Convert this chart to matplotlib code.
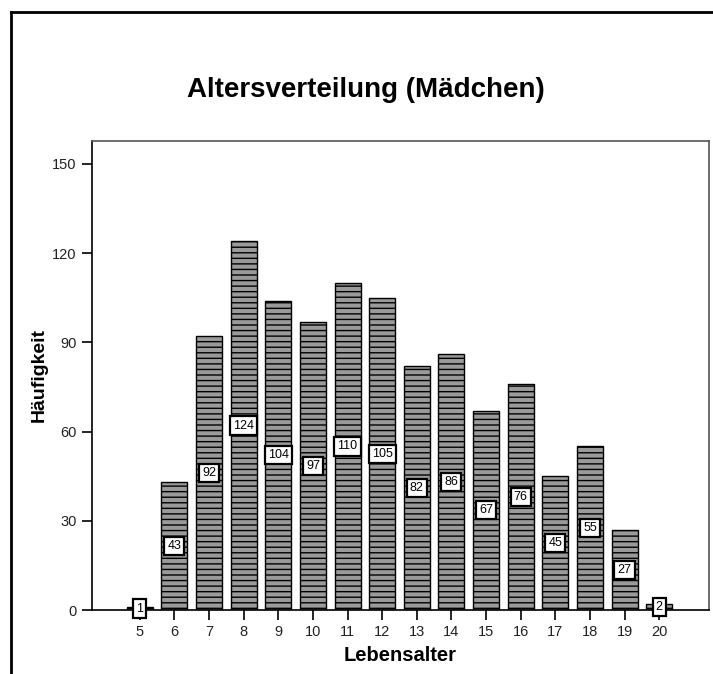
import matplotlib.pyplot as plt
from matplotlib.lines import Line2D

# Altersverteilung data (ages 5..20)
ages = [5, 6, 7, 8, 9, 10, 11, 12, 13, 14, 15, 16, 17, 18, 19, 20]
counts = [1, 43, 92, 124, 104, 97, 110, 105, 82, 86, 67, 76, 45, 55, 27, 2]
yticks = [0, 30, 60, 90, 120, 150]

plt.rcParams['font.family'] = ['Liberation Sans', 'DejaVu Sans']
plt.rcParams['hatch.linewidth'] = 1.0

W, H = 713, 674
fig = plt.figure(figsize=(W / 100, H / 100), dpi=100)
fig.patch.set_facecolor('white')

# axes box in pixels: left 92, right 709, top 141, bottom 610
ax = fig.add_axes([92 / W, 1 - 610 / H, (709 - 92) / W, (610 - 141) / H])

ax.bar(ages, counts, width=0.75, color='#9a9a9a', edgecolor='black',
       linewidth=1.0, hatch='---')

# value labels in white boxes at mid height
for a, c in zip(ages, counts):
    ax.text(a, c / 2, str(c), ha='center', va='center', fontsize=9,
            bbox=dict(boxstyle='square,pad=0.25', fc='white', ec='black', lw=1.6))

ax.set_xlim(3.62, 21.44)
ax.set_ylim(0, 157.7)
ax.set_xticks(ages)
ax.set_yticks(yticks)
ax.tick_params(axis='both', direction='out', length=7, width=1.2,
               labelsize=10.5, labelcolor='#222222', pad=4)

for s in ['left', 'top', 'right', 'bottom']:
    ax.spines[s].set_linewidth(1.2)
ax.spines['top'].set_color('#555555')
ax.spines['right'].set_color('#555555')

ax.set_xlabel('Lebensalter', fontsize=14.5, fontweight='bold', labelpad=5)
ax.set_ylabel('Häufigkeit', fontsize=14, fontweight='bold', labelpad=3)

fig.text(366 / W, 1 - 90 / H, 'Altersverteilung (Mädchen)', ha='center',
         va='center', fontsize=20, fontweight='bold')

# outer frame (cropped: only left and top edges visible)
fig.add_artist(Line2D([11 / W, 11 / W], [0, 1 - 12 / H], color='black', lw=2,
                      transform=fig.transFigure))
fig.add_artist(Line2D([11 / W, 1], [1 - 12 / H, 1 - 12 / H], color='black', lw=2,
                      transform=fig.transFigure))

fig.savefig('out.png', dpi=100)
